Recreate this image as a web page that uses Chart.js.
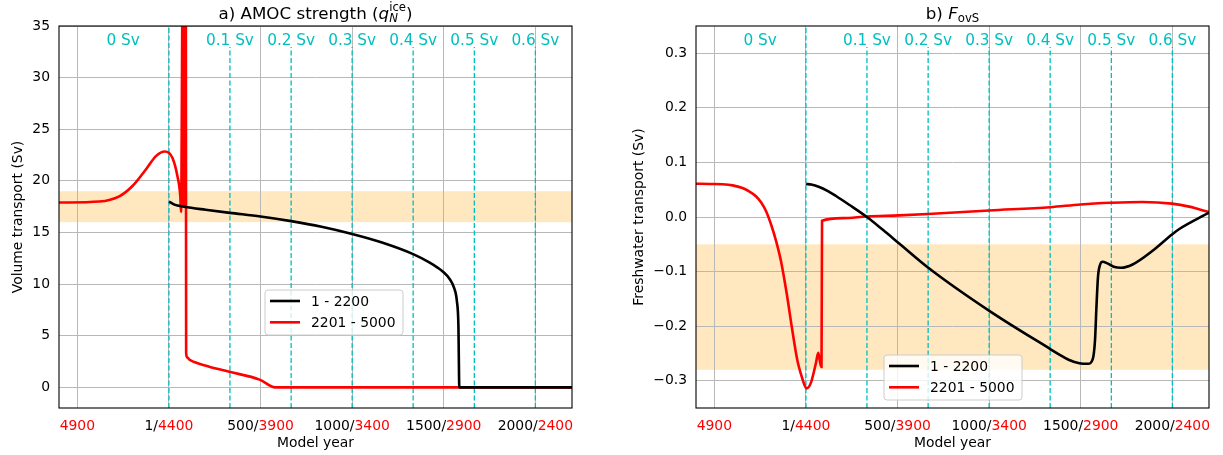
<!DOCTYPE html>
<html>
<head>
<meta charset="utf-8">
<script src="https://cdn.jsdelivr.net/npm/chart.js@4.4.0/dist/chart.umd.min.js"></script>
<style>
  body { margin: 0; background: #fff; }
  #wrap { position: relative; width: 1223px; height: 455px; }
  canvas { position: absolute; top: 0; }
</style>
</head>
<body>
<div id="wrap">
  <canvas id="amoc" width="611" height="455" style="left:0"></canvas>
  <canvas id="fovs" width="612" height="455" style="left:611px"></canvas>
</div>
<script>
// x axis runs in years of run 1; run 2 (2201-5000) is drawn backwards as 4400 - year
const xTicks = [-500, 0, 500, 1000, 1500, 2000];
const xTickRun1 = ['', '1', '500', '1000', '1500', '2000'];
const xTickRun2 = ['4900', '4400', '3900', '3400', '2900', '2400'];

// freshwater forcing reached along the ramp
const hosingSv = [0, 0.1, 0.2, 0.3, 0.4, 0.5, 0.6];
const hosingYears = [0, 333, 667, 1000, 1333, 1667, 2000];
const hosingFirstLabelAt = -250;

// a) AMOC strength
const amocTicks = [0, 5, 10, 15, 20, 25, 30, 35];
const amocBand = [16, 19];
const amocYears1 = [1, 30, 83, 200, 333, 500, 667, 833, 1000, 1167, 1333, 1421, 1470, 1499, 1530, 1557, 1572, 1580, 1585, 1600, 2200];
const amocValues1 = [18.0, 17.7, 17.5, 17.2, 16.9, 16.55, 16.1, 15.55, 14.85, 14.0, 12.9, 12.1, 11.55, 11.15, 10.55, 9.6, 8.3, 6.0, 0, 0, 0];
const amocYears2 = [5000, 4780, 4671, 4599, 4526, 4471, 4422, 4380, 4353, 4338, 4334, 4323, 4319, 4315, 4311, 4308, 4306, 4300, 4289, 4262, 4180, 4069, 3905, 3820, 2201];
const amocValues2 = [17.9, 18.0, 18.5, 19.5, 21.1, 22.4, 22.85, 22.2, 20.4, 18.5, 17.0, 45, 17.5, 45, 17.5, 45, 3.3, 2.9, 2.7, 2.45, 2.0, 1.5, 0.75, 0, 0];

// b) FovS
const fovTicks = [-0.3, -0.2, -0.1, 0, 0.1, 0.2, 0.3];
const fovBand = [-0.28, -0.05];
const fovYears1 = [1, 29, 73, 120, 164, 236, 333, 420, 509, 666, 1001, 1334, 1383, 1437, 1492, 1540, 1565, 1578, 1585, 1594, 1605, 1619, 1645, 1680, 1720, 1783, 1892, 1998, 2038, 2200];
const fovValues1 = [0.0605, 0.0595, 0.055, 0.0475, 0.0385, 0.0225, 0.0, -0.0235, -0.0485, -0.0925, -0.172, -0.242, -0.252, -0.262, -0.268, -0.269, -0.261, -0.225, -0.170, -0.110, -0.088, -0.082, -0.085, -0.091, -0.093, -0.087, -0.062, -0.032, -0.022, 0.008];
const fovYears2 = [5000, 4927, 4855, 4800, 4746, 4710, 4673, 4645, 4618, 4588, 4562, 4536, 4504, 4476, 4446, 4427, 4409, 4397, 4373, 4345, 4333, 4324, 4318, 4315, 4312, 4200, 4067, 3891, 3734, 3399, 3066, 2901, 2733, 2564, 2402, 2308, 2201];
const fovValues2 = [0.061, 0.0605, 0.060, 0.058, 0.053, 0.047, 0.038, 0.027, 0.011, -0.016, -0.045, -0.081, -0.142, -0.204, -0.264, -0.288, -0.307, -0.314, -0.304, -0.267, -0.249, -0.264, -0.273, -0.275, -0.007, -0.002, 0.001, 0.003, 0.0055, 0.012, 0.018, 0.023, 0.026, 0.0275, 0.0245, 0.019, 0.009];

const FONT = '"DejaVu Sans", sans-serif';
const run1 = (yrs, vals) => yrs.map((t, i) => ({ x: t, y: vals[i] }));
const run2 = (yrs, vals) => yrs.map((t, i) => ({ x: 4400 - t, y: vals[i] }));

function drawRich(ctx, parts, cx, base) {
  let total = 0;
  parts.forEach(p => { ctx.font = p.font; p.w = ctx.measureText(p.t).width; if (!p.stack) total += p.w; });
  let x = cx - total / 2;
  ctx.textAlign = 'left';
  ctx.textBaseline = 'alphabetic';
  parts.forEach(p => {
    ctx.font = p.font;
    ctx.fillText(p.t, x, base + (p.dy || 0));
    if (!p.stack) x += p.w;
  });
}

const panelDecor = {
  id: 'panelDecor',
  beforeDraw(chart, args, o) {
    const { ctx, chartArea: a, scales: { y } } = chart;
    const top = y.getPixelForValue(o.band[1]);
    const bot = y.getPixelForValue(o.band[0]);
    ctx.save();
    ctx.fillStyle = 'rgba(255,165,0,0.25)';
    ctx.fillRect(a.left, top, a.right - a.left, bot - top);
    ctx.restore();
  },
  beforeDatasetsDraw(chart) {
    const { ctx, chartArea: a, scales: { x } } = chart;
    ctx.save();
    ctx.strokeStyle = '#00bfbf';
    ctx.fillStyle = '#00bfbf';
    ctx.lineWidth = 1.3;
    ctx.setLineDash([5, 2.5]);
    ctx.font = '15.3px ' + FONT;
    ctx.textAlign = 'center';
    ctx.textBaseline = 'alphabetic';
    hosingYears.forEach((yr, i) => {
      const px = x.getPixelForValue(yr);
      const top = i === 0 ? a.top : a.top + (a.bottom - a.top) * 0.055;
      ctx.beginPath();
      ctx.moveTo(px, a.bottom);
      ctx.lineTo(px, top);
      ctx.stroke();
      const lx = x.getPixelForValue(i === 0 ? hosingFirstLabelAt : yr);
      ctx.fillText(hosingSv[i] + ' Sv', lx, a.top + 18.5);
    });
    ctx.restore();
  },
  afterDraw(chart, args, o) {
    const { ctx, chartArea: a, scales: { x } } = chart;
    ctx.save();
    // axes box
    ctx.strokeStyle = '#000';
    ctx.lineWidth = 1.1;
    ctx.strokeRect(a.left, a.top, a.right - a.left, a.bottom - a.top);

    // two-coloured year labels
    ctx.font = '13.9px ' + FONT;
    ctx.textAlign = 'left';
    ctx.textBaseline = 'alphabetic';
    xTicks.forEach((v, i) => {
      const s1 = xTickRun1[i] ? xTickRun1[i] + '/' : '';
      const s2 = xTickRun2[i];
      const w1 = ctx.measureText(s1).width;
      const w2 = ctx.measureText(s2).width;
      const px = x.getPixelForValue(v) - (w1 + w2) / 2;
      ctx.fillStyle = '#000';
      ctx.fillText(s1, px, a.bottom + 22);
      ctx.fillStyle = '#ff0000';
      ctx.fillText(s2, px + w1, a.bottom + 22);
    });

    // title
    ctx.fillStyle = '#000';
    drawRich(ctx, o.title, (a.left + a.right) / 2, 18.5);

    // legend
    const lx = a.left + o.legend[0], ly = a.top + o.legend[1], w = 138, h = 45;
    ctx.beginPath();
    ctx.roundRect(lx, ly, w, h, 3);
    ctx.fillStyle = 'rgba(255,255,255,0.8)';
    ctx.fill();
    ctx.strokeStyle = '#cccccc';
    ctx.lineWidth = 1;
    ctx.stroke();
    ctx.font = '13.9px ' + FONT;
    ctx.textBaseline = 'middle';
    chart.data.datasets.forEach((ds, i) => {
      const cy = ly + 11 + i * 21.3;
      ctx.strokeStyle = ds.borderColor;
      ctx.lineWidth = ds.borderWidth;
      ctx.beginPath();
      ctx.moveTo(lx + 5, cy);
      ctx.lineTo(lx + 35, cy);
      ctx.stroke();
      ctx.fillStyle = '#000';
      ctx.fillText(ds.label, lx + 46, cy + 1);
    });
    ctx.restore();
  }
};

function makePanel(id, cfg) {
  return new Chart(document.getElementById(id), {
    type: 'line',
    data: {
      datasets: [
        { label: '1 - 2200', data: cfg.d1, borderColor: '#000000', borderWidth: 2.6 },
        { label: '2201 - 5000', data: cfg.d2, borderColor: '#ff0000', borderWidth: 2.6 }
      ]
    },
    options: {
      responsive: false,
      animation: false,
      layout: { padding: { left: 0, right: cfg.padRight, top: 26, bottom: 0 } },
      elements: { point: { radius: 0 }, line: { cubicInterpolationMode: 'monotone' } },
      datasets: { line: { clip: 0 } },
      plugins: {
        legend: { display: false },
        tooltip: { enabled: false },
        panelDecor: { band: cfg.band, title: cfg.title, legend: cfg.legend }
      },
      scales: {
        x: {
          type: 'linear', min: -600, max: 2200,
          afterBuildTicks: s => { s.ticks = xTicks.map(v => ({ value: v })); },
          afterFit: s => { s.height = 47; },
          ticks: { display: false },
          grid: { color: '#b8b8b8', lineWidth: 1, drawTicks: false },
          border: { display: false },
          title: { display: true, text: 'Model year', color: '#000', font: { family: FONT, size: 13.9 }, padding: { top: 0, bottom: 3 } }
        },
        y: {
          min: cfg.yMin, max: cfg.yMax,
          afterBuildTicks: s => { s.ticks = cfg.yTicks.map(v => ({ value: v })); },
          afterFit: s => { s.width = cfg.yWidth; },
          ticks: { color: '#000', padding: 9, font: { family: FONT, size: 13.9 }, callback: cfg.fmt },
          grid: { color: '#b8b8b8', lineWidth: 1, drawTicks: false },
          border: { display: false },
          title: { display: true, text: cfg.yTitle, color: '#000', font: { family: FONT, size: 13.9 }, padding: { top: cfg.yTitlePad, bottom: 0 } }
        }
      }
    },
    plugins: [panelDecor]
  });
}

makePanel('amoc', {
  d1: run1(amocYears1, amocValues1),
  d2: run2(amocYears2, amocValues2),
  band: amocBand,
  yMin: -2, yMax: 35, yTicks: amocTicks, yWidth: 59, yTitlePad: 10, padRight: 39,
  fmt: v => String(v),
  yTitle: 'Volume transport (Sv)',
  legend: [206, 264],
  title: [
    { t: 'a) AMOC strength (', font: '16.7px ' + FONT },
    { t: 'q', font: 'italic 16.7px ' + FONT },
    { t: 'N', font: 'italic 11.7px ' + FONT, dy: 3.5, stack: true },
    { t: 'ice', font: '11.7px ' + FONT, dy: -7.8 },
    { t: ')', font: '16.7px ' + FONT }
  ]
});

makePanel('fovs', {
  d1: run1(fovYears1, fovValues1),
  d2: run2(fovYears2, fovValues2),
  band: fovBand,
  yMin: -0.35, yMax: 0.35, yTicks: fovTicks, yWidth: 85, yTitlePad: 20.5, padRight: 14,
  fmt: v => v.toFixed(1).replace('-', '\u2212'),
  yTitle: 'Freshwater transport (Sv)',
  legend: [188, 329],
  title: [
    { t: 'b) ', font: '16.7px ' + FONT },
    { t: 'F', font: 'italic 16.7px ' + FONT },
    { t: 'ovS', font: '11.7px ' + FONT, dy: 3 }
  ]
});
</script>
</body>
</html>
